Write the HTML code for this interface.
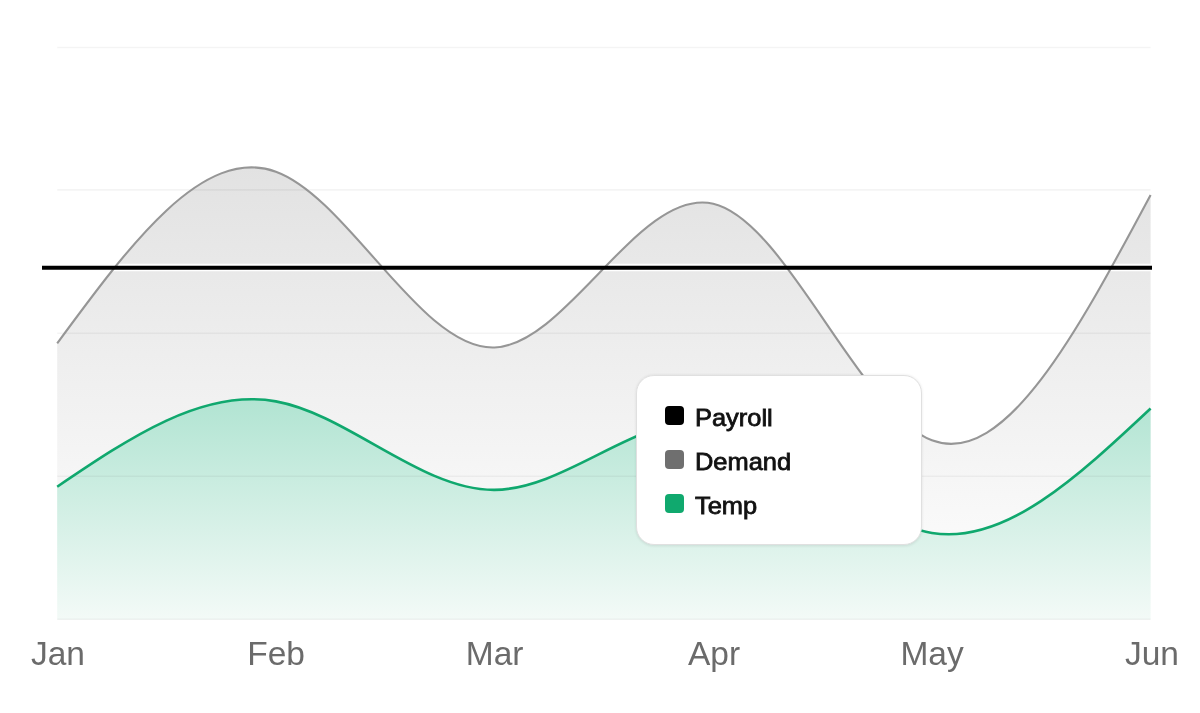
<!DOCTYPE html>
<html><head><meta charset="utf-8"><style>
html,body{margin:0;padding:0;background:#fff;width:1200px;height:713px;overflow:hidden;}
svg{position:absolute;left:0;top:0;}
.tip,svg text{will-change:transform;}
.tip{position:absolute;left:636px;top:375px;width:286px;height:169.5px;box-sizing:border-box;background:#fff;border:1px solid #e0e0e0;border-radius:18px;box-shadow:0 0.5px 3px rgba(0,0,0,0.09);font-family:"Liberation Sans",sans-serif;}
.sw{position:absolute;left:28px;width:19px;height:19px;border-radius:4px;}
.lt{position:absolute;left:58px;font-size:24px;line-height:30px;height:30px;transform:scaleX(1.06);transform-origin:0 0;color:#111;white-space:nowrap;-webkit-text-stroke:0.8px #111;}
</style></head><body>
<svg width="1200" height="713" viewBox="0 0 1200 713">
<defs>
<linearGradient id="gd" gradientUnits="userSpaceOnUse" x1="0" y1="167" x2="0" y2="619"><stop offset="0" stop-color="#e2e2e2"/><stop offset="1" stop-color="#ffffff"/></linearGradient>
<linearGradient id="gg" gradientUnits="userSpaceOnUse" x1="0" y1="399" x2="0" y2="619"><stop offset="0" stop-color="#b1e4d2"/><stop offset="1" stop-color="#f3faf7"/></linearGradient>
</defs>
<path d="M57.20,343.32C130.09,244.24,202.99,145.17,275.88,171.70C348.77,198.23,421.67,350.38,494.56,347.50C567.45,344.62,640.35,186.73,713.24,203.73C786.13,220.73,859.03,412.62,931.92,440.30C1004.81,467.98,1077.71,331.45,1150.60,194.92L1150.6,619.5L57.2,619.5Z" fill="url(#gd)"/>
<path d="M57.20,486.73C130.09,437.41,202.99,388.09,275.88,401.36C348.77,414.63,421.67,490.48,494.56,489.87C567.45,489.26,640.35,412.20,713.24,420.05C786.13,427.90,859.03,520.68,931.92,532.91C1004.81,545.14,1077.71,476.84,1150.60,408.53L1150.6,619.5L57.2,619.5Z" fill="url(#gg)"/>
<g stroke="#000" stroke-opacity="0.042" stroke-width="1.6"><line x1="57.2" x2="1150.6" y1="47.5" y2="47.5"/><line x1="57.2" x2="1150.6" y1="189.9" y2="189.9"/><line x1="57.2" x2="1150.6" y1="333.2" y2="333.2"/><line x1="57.2" x2="1150.6" y1="476.3" y2="476.3"/><line x1="57.2" x2="1150.6" y1="619.3" y2="619.3"/></g>
<line x1="42" x2="1152" y1="267.5" y2="267.5" stroke="#fff" stroke-width="7.4"/>
<path d="M57.20,343.32C130.09,244.24,202.99,145.17,275.88,171.70C348.77,198.23,421.67,350.38,494.56,347.50C567.45,344.62,640.35,186.73,713.24,203.73C786.13,220.73,859.03,412.62,931.92,440.30C1004.81,467.98,1077.71,331.45,1150.60,194.92" fill="none" stroke="#969696" stroke-width="2.1"/>
<path d="M57.20,486.73C130.09,437.41,202.99,388.09,275.88,401.36C348.77,414.63,421.67,490.48,494.56,489.87C567.45,489.26,640.35,412.20,713.24,420.05C786.13,427.90,859.03,520.68,931.92,532.91C1004.81,545.14,1077.71,476.84,1150.60,408.53" fill="none" stroke="#10a86e" stroke-width="2.6"/>
<line x1="42" x2="1152" y1="267.7" y2="267.7" stroke="#000" stroke-width="4"/>
<g font-family="Liberation Sans, sans-serif" font-size="33.5" fill="#6b6b6b" text-anchor="middle"><text x="58.0" y="665">Jan</text><text x="276.1" y="665">Feb</text><text x="494.6" y="665">Mar</text><text x="714.0" y="665">Apr</text><text x="932.1" y="665">May</text><text x="1152.0" y="665">Jun</text></g>
</svg>
<div class="tip">
<div class="sw" style="top:30px;background:#000"></div><div class="lt" style="top:27px">Payroll</div>
<div class="sw" style="top:74px;background:#6f6f6f"></div><div class="lt" style="top:71px">Demand</div>
<div class="sw" style="top:118px;background:#10a96e"></div><div class="lt" style="top:115px">Temp</div>
</div>
</body></html>
